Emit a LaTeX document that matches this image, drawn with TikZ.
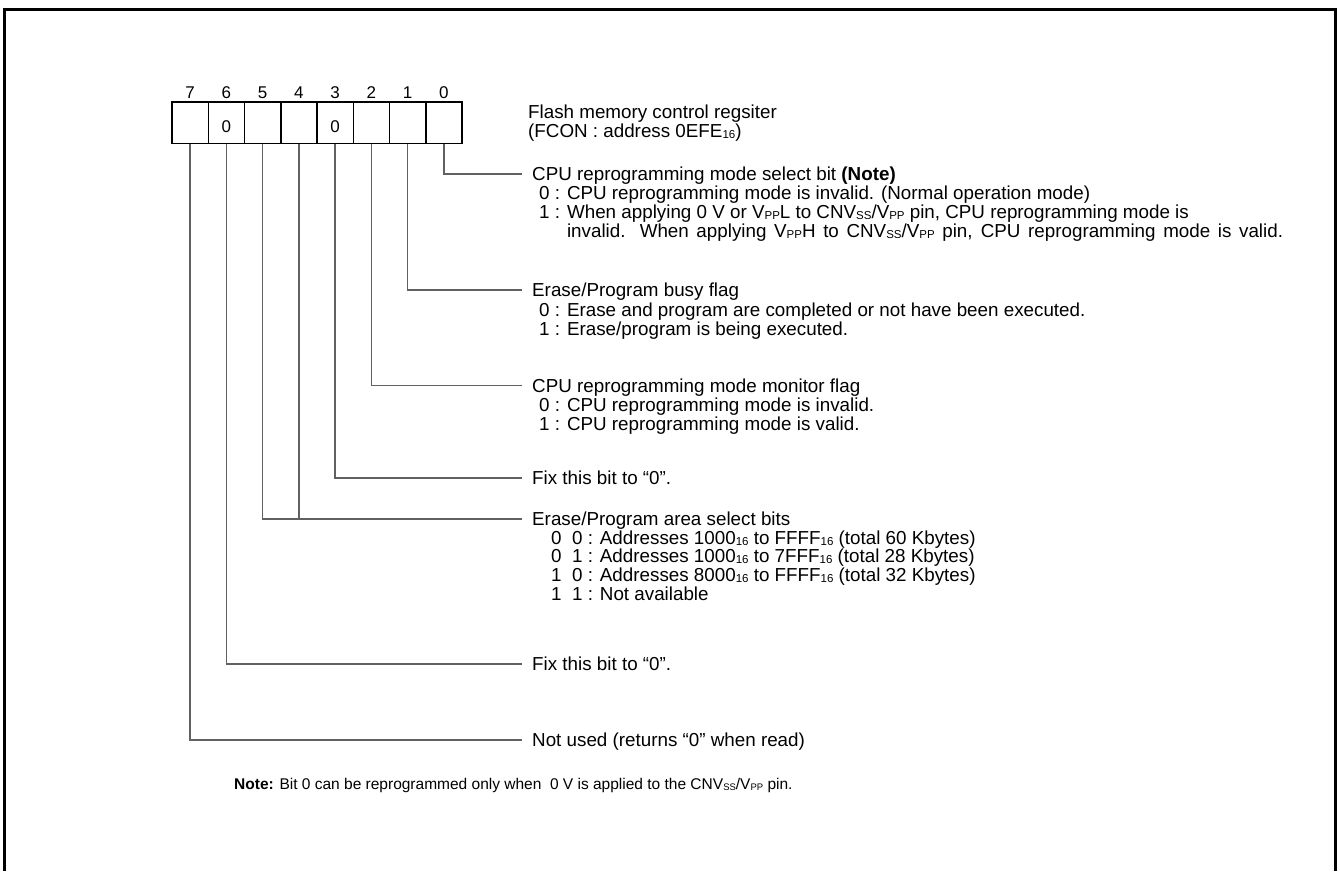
\documentclass[tikz,border=0pt]{standalone}
\usepackage{fontspec}
\setmainfont{Liberation Sans}
\newcommand\sbs[1]{\raisebox{-1.2pt}{\fontsize{11.5}{11.5}\selectfont #1}}
\newcommand\sbn[1]{\raisebox{-1pt}{\fontsize{9.5}{9.5}\selectfont #1}}
\begin{document}
\begin{tikzpicture}[x=1pt,y=-1pt,
  txt/.style={anchor=base west,inner sep=0pt,font=\fontsize{18.8}{19}\selectfont},
  notetxt/.style={anchor=base west,inner sep=0pt,font=\fontsize{15.5}{16}\selectfont},
  cell/.style={draw,line width=1.5pt,minimum width=36.25pt,minimum height=41.5pt,inner sep=0pt},
  num/.style={inner sep=0pt,font=\fontsize{17}{17}\selectfont},
  leader/.style={draw=black!62,line width=1.3pt},
  frame/.style={line width=2.7pt}]
\useasboundingbox (0,0) rectangle (1340,871);
\draw[frame] (4.5,871) -- (4.5,9.3) -- (1335.5,9.3) -- (1335.5,871);
% register cells
\foreach \b in {0,...,7}{
  \node[cell] (c\b) at ({172+(7-\b+0.5)*36.25},122.5) {};
  \node[num] (n\b) at ({172+(7-\b+0.5)*36.25},93) {\b};
}
\node[num] (z6) at ({172+1.5*36.25},127) {0};
\node[num] (z3) at ({172+4.5*36.25},127) {0};
% title
\node[txt] (title1) at (528,118) {Flash memory control regsiter};
\node[txt] (title2) at (528,137.5) {(FCON : address 0EFE\sbs{16})};
% leader ends
\coordinate (e0) at (522,174);
\coordinate (e1) at (522,290);
\coordinate (e2) at (522,385.5);
\coordinate (e3) at (522,478);
\coordinate (e45) at (522,519);
\coordinate (e6) at (522,664);
\coordinate (e7) at (522,740);
\draw[leader] (c0.south) |- (e0);
\draw[leader] (c1.south) |- (e1);
\draw[leader] (c2.south) |- (e2);
\draw[leader] (c3.south) |- (e3);
\draw[leader] (c5.south) |- (e45);
\draw[leader] (c4.south) -- (c4.south |- e45);
\draw[leader] (c6.south) |- (e6);
\draw[leader] (c7.south) |- (e7);
% bit 0
\node[txt] (b0a) at (532,180.7) {CPU reprogramming mode select bit \textbf{(Note)}};
\node[txt] (b0b) at (539,199.7) {0 : CPU reprogramming mode is invalid. (Normal operation mode)};
\node[txt] (b0c) at (539,218.7) {1 : When applying 0 V or V\sbs{PP}L to CNV\sbs{SS}/V\sbs{PP} pin, CPU reprogramming mode is};
\node[txt] (b0d) at (539,237.7) {\phantom{1 : }\makebox[716pt][s]{invalid. When applying V\sbs{PP}H to CNV\sbs{SS}/V\sbs{PP} pin, CPU reprogramming mode is valid.}};
% bit 1
\node[txt] (b1a) at (532,296.7) {Erase/Program busy flag};
\node[txt] (b1b) at (539,316.2) {0 : Erase and program are completed or not have been executed.};
\node[txt] (b1c) at (539,335.2) {1 : Erase/program is being executed.};
% bit 2
\node[txt] (b2a) at (532,392.2) {CPU reprogramming mode monitor flag};
\node[txt] (b2b) at (539,411.2) {0 : CPU reprogramming mode is invalid.};
\node[txt] (b2c) at (539,430.2) {1 : CPU reprogramming mode is valid.};
% bit 3
\node[txt] (b3a) at (532,484.7) {Fix this bit to “0”.};
% bits 4,5
\node[txt] (b4a) at (532,525.7) {Erase/Program area select bits};
\node[txt] (b4b) at (551,544.2) {0\ \ 0 : Addresses 1000\sbs{16} to FFFF\sbs{16} (total 60 Kbytes)};
\node[txt] (b4c) at (551,562.7) {0\ \ 1 : Addresses 1000\sbs{16} to 7FFF\sbs{16} (total 28 Kbytes)};
\node[txt] (b4d) at (551,581.7) {1\ \ 0 : Addresses 8000\sbs{16} to FFFF\sbs{16} (total 32 Kbytes)};
\node[txt] (b4e) at (551,600.2) {1\ \ 1 : Not available};
% bit 6
\node[txt] (b6a) at (532,670.7) {Fix this bit to “0”.};
% bit 7
\node[txt] (b7a) at (532,746.7) {Not used (returns “0” when read)};
% note
\node[notetxt] (note) at (234,789.5) {\textbf{Note:} Bit 0 can be reprogrammed only when \ 0 V is applied to the CNV\sbn{SS}/V\sbn{PP} pin.};
\end{tikzpicture}
\end{document}
